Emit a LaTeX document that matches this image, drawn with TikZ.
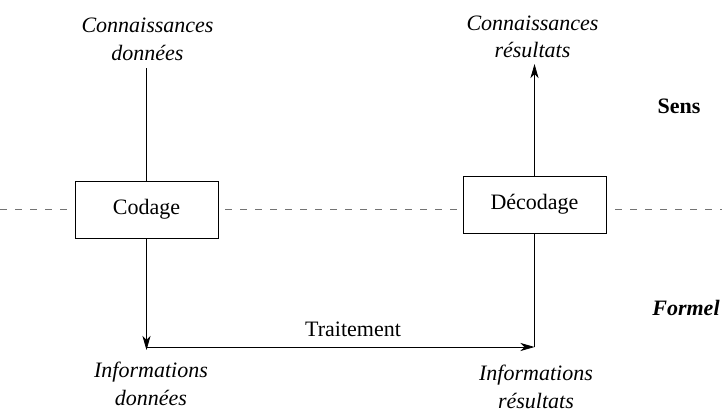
\documentclass[tikz,border=0pt]{standalone}
\usepackage{fontspec}
\setmainfont{Liberation Serif}
\usetikzlibrary{arrows.meta}
\begin{document}
\begin{tikzpicture}[x=1pt,y=-1pt,
  txt/.style={font=\fontsize{22}{27.5}\selectfont, inner sep=0pt},
  lbl/.style={font=\fontsize{22}{27.5}\selectfont\itshape, align=center, inner sep=0pt},
  boxn/.style={draw, line width=0.8pt, fill=white, minimum width=143pt, minimum height=57pt, inner sep=0pt, font=\fontsize{22}{27.5}\selectfont},
  conn/.style={line width=0.8pt},
  arr/.style={conn, -{Stealth[length=14pt,width=8pt,inset=4pt]}},
  sep/.style={gray!90!black, line width=0.9pt, dash pattern=on 7pt off 8pt},
  side/.style={font=\fontsize{22}{27.5}\selectfont\bfseries, inner sep=0pt}]
\useasboundingbox (0,0) rectangle (722,412);
\coordinate (dl) at (0,209.5);
\coordinate (dr) at (722,209.5);
\draw[sep] (dl) -- (dr);
\node[boxn] (codage) at (146.5,209.5) {Codage};
\node[boxn] (decodage) at (534.5,204.5) {Décodage};
\node[lbl, anchor=base] (kd) at (147.5,60) {Connaissances\\données};
\node[lbl, anchor=base] (kr) at (532.5,58) {Connaissances\\résultats};
\node[lbl, anchor=base] (id) at (151,405) {Informations\\données};
\node[lbl, anchor=base] (ir) at (536,408) {Informations\\résultats};
\node[side, anchor=base] (sens) at (679,113) {Sens};
\node[side, font=\fontsize{22}{27.5}\selectfont\bfseries\itshape, anchor=base] (formel) at (686,315) {Formel};
\node[txt, anchor=base] (trait) at (353,336) {Traitement};
\coordinate (kdend) at (146.5,68);
\coordinate (dn) at (146.5,350);
\coordinate (hs) at (146.5,347);
\coordinate (rn) at (534.5,347);
\coordinate (krend) at (534.5,64);
\draw[conn] (kdend) -- (codage.north);
\draw[arr] (codage.south) -- (dn);
\draw[arr] (hs) -- (rn);
\draw[conn] (rn) -- (decodage.south);
\draw[arr] (decodage.north) -- (krend);
\end{tikzpicture}
\end{document}
